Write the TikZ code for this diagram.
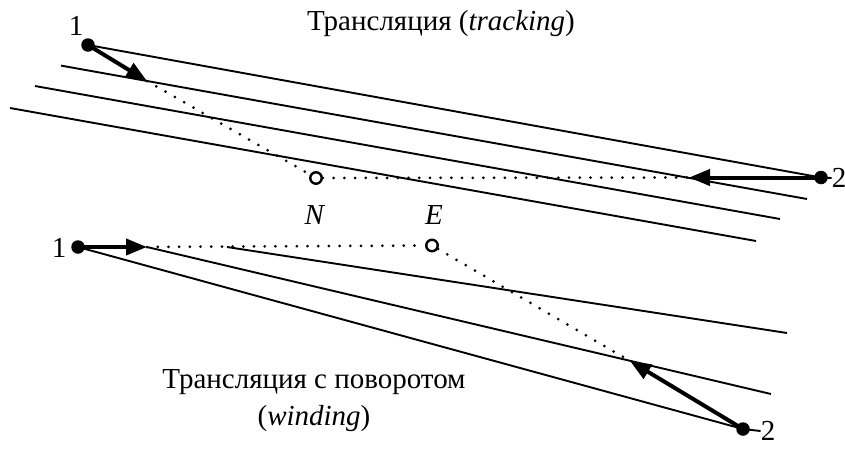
\documentclass[tikz,border=0pt]{standalone}
\usepackage{fontspec}
\setmainfont{Liberation Serif}
\usetikzlibrary{arrows.meta}
\begin{document}
\begin{tikzpicture}[x=1pt,y=-1pt,
  dotnode/.style={circle, fill=black, inner sep=0pt, minimum size=13.5pt},
  ringnode/.style={circle, draw=black, line width=2.4pt, inner sep=0pt, minimum size=11.5pt},
  lab/.style={font=\fontsize{29}{37}\selectfont, inner sep=0pt},
  fine/.style={line width=1.9pt},
  dots/.style={line width=3pt, line cap=round, dash pattern=on 0pt off 10.7pt},
  move/.style={line width=4pt, -{Triangle[length=21pt,width=16pt]}}]
\useasboundingbox (0,0) rectangle (845,448);

% ---------- top: tracking ----------
\node[lab, anchor=base] (title1) at (441,30) {Трансляция (\textit{tracking})};
\node[dotnode] (t1) at (88,45) {};
\node[dotnode] (t2) at (821,177.5) {};
\node[lab] (t1lab) at (76,26) {1};
\node[lab] (t2lab) at (839,178) {2};
\node[ringnode] (N) at (316,178) {};
\node[lab] (Nlab) at (315,215) {\textit{N}};

\coordinate (a1) at (147,81);
\coordinate (a2) at (689,177.5);
\coordinate (l2s) at (61,65.6);
\coordinate (l2e) at (807,199);
\coordinate (l3s) at (35,86);
\coordinate (l3e) at (780,219);
\coordinate (l4s) at (10,108);
\coordinate (l4e) at (756,241);

\draw[fine] (t1.center) -- (t2.center);
\draw[fine] (t2.center) -- (t2lab.west);
\draw[fine] (l2s) -- (l2e);
\draw[fine] (l3s) -- (l3e);
\draw[fine] (l4s) -- (l4e);
\draw[dots] (a1) -- (N);
\draw[dots] (N) -- (a2);
\draw[move] (t1.center) -- (a1);
\draw[move] (t2.center) -- (a2);

% ---------- bottom: winding ----------
\node[dotnode] (b1) at (78,247) {};
\node[dotnode] (b2) at (743,429) {};
\node[lab] (b1lab) at (59,248) {1};
\node[lab] (b2lab) at (768,431) {2};
\node[ringnode] (E) at (432,245.5) {};
\node[lab] (Elab) at (434,215) {\textit{E}};
\node[lab, anchor=north, align=center] (title2) at (314,369)
  {Трансляция с поворотом\\(\textit{winding})};

\coordinate (ba1) at (147,247);
\coordinate (ba2) at (630,361);
\coordinate (las) at (227,247);
\coordinate (lae) at (787,333);
\coordinate (lbe) at (771,394);

\draw[fine] (b1.center) -- (b2.center) -- (b2lab.west);
\draw[fine] (ba1) -- (lbe);
\draw[fine] (las) -- (lae);
\draw[dots] (ba1) -- (E);
\draw[dots] (E) -- (ba2);
\draw[move] (b1.center) -- (ba1);
\draw[move] (b2.center) -- (ba2);
\end{tikzpicture}
\end{document}
